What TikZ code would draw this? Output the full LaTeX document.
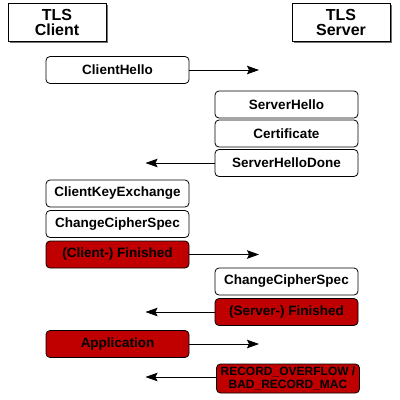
\documentclass[tikz,border=0pt]{standalone}
\usepackage{fontspec}
\setmainfont{Liberation Sans}
\usetikzlibrary{arrows.meta,shadows}
\definecolor{tlsred}{HTML}{C00000}
\begin{document}
\begin{tikzpicture}[x=1pt,y=-1pt,
  head/.style={draw=black, line width=0.9pt, fill=white, minimum width=98pt, minimum height=38pt,
    align=center, font=\bfseries\fontsize{16}{17}\selectfont, inner sep=0pt,
    drop shadow={shadow xshift=2pt, shadow yshift=-2pt, fill=black!55, opacity=1}},
  msg/.style={draw=black, line width=0.8pt, rounded corners=4pt, fill=white, minimum width=143pt,
    minimum height=27pt, inner sep=0pt, align=center, font=\bfseries\fontsize{13.5}{15}\selectfont},
  redmsg/.style={msg, fill=tlsred},
  arr/.style={line width=0.8pt, -{Stealth[length=12pt,width=8.5pt,inset=2pt]}}
]
\useasboundingbox (0,0) rectangle (400,400);
\node[head] (client) at (57,22) {TLS\\[-2pt]Client};
\node[head] (server) at (341,22) {TLS\\[-2pt]Server};

\node[msg] (ch) at (117.5,70) {ClientHello};
\coordinate (chE) at (259,70);
\draw[arr] (ch) -- (chE);

\node[msg] (sh) at (286.5,104.5) {ServerHello};
\node[msg] (cert) at (286.5,133.5) {Certificate};
\node[msg] (shd) at (286.5,163) {ServerHelloDone};
\coordinate (shdE) at (145.5,163);
\draw[arr] (shd) -- (shdE);

\node[msg] (cke) at (117.5,193.5) {ClientKeyExchange};
\node[msg] (ccs1) at (117.5,224) {ChangeCipherSpec};
\node[redmsg] (cf) at (117.5,254.5) {(Client-) Finished};
\coordinate (cfE) at (259,254.5);
\draw[arr] (cf) -- (cfE);

\node[msg] (ccs2) at (286.5,281.5) {ChangeCipherSpec};
\node[redmsg] (sf) at (286.5,312) {(Server-) Finished};
\coordinate (sfE) at (145.5,312);
\draw[arr] (sf) -- (sfE);

\node[redmsg] (app) at (117.5,344) {Application};
\coordinate (appE) at (259,344);
\draw[arr] (app) -- (appE);

\node[redmsg, minimum height=29pt, font=\bfseries\fontsize{12}{13}\selectfont] (rec) at (288,378.5) {RECORD\_OVERFLOW /\\BAD\_RECORD\_MAC};
\coordinate (recE) at (145.5,377);
\draw[arr] (rec.west |- recE) -- (recE);
\end{tikzpicture}
\end{document}
